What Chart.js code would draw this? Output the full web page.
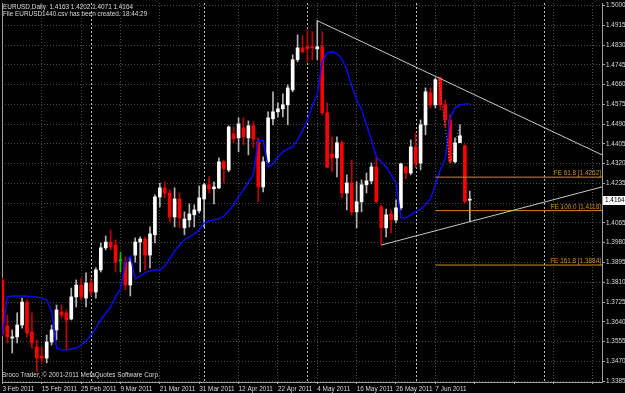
<!DOCTYPE html>
<html>
<head>
<meta charset="utf-8">
<title>EURUSD Daily</title>
<script src="https://cdn.jsdelivr.net/npm/chart.js@4.4.1/dist/chart.umd.min.js"></script>
<style>
  html, body { margin: 0; padding: 0; background: #000; }
  canvas { display: block; }
</style>
</head>
<body>
<canvas id="chart" width="625" height="393"></canvas>
<script>
// daily bars, 3 Feb 2011 .. 16 Jun 2011
const dates = [
  '3 Feb 2011', '4 Feb 2011', '7 Feb 2011', '8 Feb 2011', '9 Feb 2011', '10 Feb 2011', '11 Feb 2011', '14 Feb 2011',
  '15 Feb 2011', '16 Feb 2011', '17 Feb 2011', '18 Feb 2011', '21 Feb 2011', '22 Feb 2011', '23 Feb 2011', '24 Feb 2011',
  '25 Feb 2011', '28 Feb 2011', '1 Mar 2011', '2 Mar 2011', '3 Mar 2011', '4 Mar 2011', '7 Mar 2011', '8 Mar 2011',
  '9 Mar 2011', '10 Mar 2011', '11 Mar 2011', '14 Mar 2011', '15 Mar 2011', '16 Mar 2011', '17 Mar 2011', '18 Mar 2011',
  '21 Mar 2011', '22 Mar 2011', '23 Mar 2011', '24 Mar 2011', '25 Mar 2011', '28 Mar 2011', '29 Mar 2011', '30 Mar 2011',
  '31 Mar 2011', '1 Apr 2011', '4 Apr 2011', '5 Apr 2011', '6 Apr 2011', '7 Apr 2011', '8 Apr 2011', '11 Apr 2011',
  '12 Apr 2011', '13 Apr 2011', '14 Apr 2011', '15 Apr 2011', '18 Apr 2011', '19 Apr 2011', '20 Apr 2011', '21 Apr 2011',
  '22 Apr 2011', '25 Apr 2011', '26 Apr 2011', '27 Apr 2011', '28 Apr 2011', '29 Apr 2011', '2 May 2011', '3 May 2011',
  '4 May 2011', '5 May 2011', '6 May 2011', '9 May 2011', '10 May 2011', '11 May 2011', '12 May 2011', '13 May 2011',
  '16 May 2011', '17 May 2011', '18 May 2011', '19 May 2011', '20 May 2011', '23 May 2011', '24 May 2011', '25 May 2011',
  '26 May 2011', '27 May 2011', '30 May 2011', '31 May 2011', '1 Jun 2011', '2 Jun 2011', '3 Jun 2011', '6 Jun 2011',
  '7 Jun 2011', '8 Jun 2011', '9 Jun 2011', '10 Jun 2011', '13 Jun 2011', '14 Jun 2011', '15 Jun 2011', '16 Jun 2011'
];

const open = [
  1.3820, 1.3622, 1.3570, 1.3575, 1.3626, 1.3725, 1.3596, 1.3532, 1.3493, 1.3484,
  1.3553, 1.3605, 1.3682, 1.3678, 1.3652, 1.3747, 1.3798, 1.3742, 1.3807, 1.3768,
  1.3863, 1.3958, 1.3983, 1.3970, 1.3902, 1.3897, 1.3798, 1.3927, 1.3983, 1.3996,
  1.3927, 1.4014, 1.4177, 1.4216, 1.4194, 1.4091, 1.4168, 1.4044, 1.4078, 1.4100,
  1.4117, 1.4168, 1.4229, 1.4212, 1.4216, 1.4328, 1.4293, 1.4448, 1.4431, 1.4474,
  1.4431, 1.4483, 1.4414, 1.4220, 1.4328, 1.4513, 1.4543, 1.4556, 1.4573, 1.4637,
  1.4767, 1.4818, 1.4823, 1.4823, 1.4814, 1.4823, 1.4539, 1.4362, 1.4345, 1.4410,
  1.4194, 1.4237, 1.4113, 1.4156, 1.4229, 1.4246, 1.4306, 1.4134, 1.4044, 1.4104,
  1.4078, 1.4130, 1.4306, 1.4280, 1.4392, 1.4323, 1.4487, 1.4625, 1.4573, 1.4689,
  1.4573, 1.4508, 1.4328, 1.4410, 1.4397, 1.4163
];
const high = [
  1.3828, 1.3669, 1.3605, 1.3678, 1.3742, 1.3734, 1.3678, 1.3562, 1.3532, 1.3583,
  1.3626, 1.3712, 1.3712, 1.3691, 1.3785, 1.3820, 1.3828, 1.3850, 1.3828, 1.3872,
  1.3979, 1.4009, 1.4035, 1.3992, 1.3940, 1.3919, 1.3915, 1.4001, 1.4005, 1.4005,
  1.4048, 1.4186, 1.4237, 1.4242, 1.4207, 1.4216, 1.4194, 1.4113, 1.4147, 1.4143,
  1.4224, 1.4237, 1.4263, 1.4242, 1.4345, 1.4336, 1.4483, 1.4478, 1.4517, 1.4517,
  1.4504, 1.4500, 1.4431, 1.4349, 1.4543, 1.4629, 1.4582, 1.4620, 1.4659, 1.4788,
  1.4874, 1.4870, 1.4896, 1.4887, 1.4935, 1.4887, 1.4582, 1.4435, 1.4435, 1.4418,
  1.4272, 1.4336, 1.4242, 1.4250, 1.4280, 1.4323, 1.4345, 1.4143, 1.4125, 1.4121,
  1.4164, 1.4323, 1.4310, 1.4422, 1.4452, 1.4508, 1.4646, 1.4646, 1.4689, 1.4694,
  1.4595, 1.4530, 1.4431, 1.4487, 1.4401, 1.4202
];
const low = [
  1.3579, 1.3549, 1.3506, 1.3549, 1.3613, 1.3575, 1.3527, 1.3424, 1.3463, 1.3463,
  1.3540, 1.3562, 1.3656, 1.3519, 1.3648, 1.3704, 1.3734, 1.3704, 1.3751, 1.3742,
  1.3854, 1.3949, 1.3949, 1.3854, 1.3854, 1.3777, 1.3751, 1.3897, 1.3854, 1.3863,
  1.3872, 1.3979, 1.4134, 1.4173, 1.4070, 1.4048, 1.4044, 1.4014, 1.4048, 1.4048,
  1.4108, 1.4048, 1.4194, 1.4147, 1.4212, 1.4237, 1.4285, 1.4410, 1.4371, 1.4401,
  1.4358, 1.4388, 1.4156, 1.4199, 1.4323, 1.4487, 1.4521, 1.4521, 1.4487, 1.4629,
  1.4758, 1.4797, 1.4758, 1.4767, 1.4767, 1.4530, 1.4302, 1.4285, 1.4263, 1.4173,
  1.4121, 1.4100, 1.4044, 1.4113, 1.4194, 1.4233, 1.4151, 1.3970, 1.4005, 1.4022,
  1.4065, 1.4121, 1.4255, 1.4272, 1.4302, 1.4293, 1.4444, 1.4560, 1.4560, 1.4551,
  1.4478, 1.4323, 1.4323, 1.4410, 1.4151, 1.4071
];
const close = [
  1.3588, 1.3575, 1.3575, 1.3626, 1.3725, 1.3592, 1.3549, 1.3484, 1.3484, 1.3553,
  1.3605, 1.3691, 1.3669, 1.3648, 1.3747, 1.3798, 1.3747, 1.3807, 1.3768, 1.3863,
  1.3958, 1.3983, 1.3962, 1.3897, 1.3902, 1.3798, 1.3897, 1.3983, 1.3996, 1.3927,
  1.4018, 1.4177, 1.4216, 1.4194, 1.4091, 1.4168, 1.4087, 1.4082, 1.4104, 1.4121,
  1.4173, 1.4229, 1.4212, 1.4220, 1.4328, 1.4298, 1.4478, 1.4427, 1.4491, 1.4435,
  1.4483, 1.4427, 1.4220, 1.4328, 1.4517, 1.4543, 1.4556, 1.4573, 1.4646, 1.4767,
  1.4818, 1.4801, 1.4814, 1.4818, 1.4823, 1.4539, 1.4306, 1.4345, 1.4410, 1.4194,
  1.4237, 1.4113, 1.4156, 1.4229, 1.4246, 1.4306, 1.4156, 1.4044, 1.4100, 1.4078,
  1.4130, 1.4319, 1.4280, 1.4392, 1.4323, 1.4487, 1.4629, 1.4573, 1.4681, 1.4573,
  1.4508, 1.4328, 1.4410, 1.4440, 1.4156, 1.4164
];

// blue moving average as drawn on the chart
const movingAvg = [
  1.3583, 1.3747, 1.3751, 1.3751, 1.3751, 1.3751, 1.3747, 1.3747, 1.3742, 1.3734,
  1.3686, 1.3527, 1.3519, 1.3519, 1.3523, 1.3527, 1.3540, 1.3557, 1.3583, 1.3613,
  1.3648, 1.3678, 1.3704, 1.3747, 1.3781, 1.3897, 1.3923, 1.3824, 1.3837, 1.3850,
  1.3859, 1.3863, 1.3863, 1.3880, 1.3910, 1.3945, 1.3970, 1.3992, 1.4005, 1.4018,
  1.4035, 1.4065, 1.4074, 1.4078, 1.4082, 1.4095, 1.4117, 1.4143, 1.4177, 1.4207,
  1.4242, 1.4272, 1.4418, 1.4422, 1.4306, 1.4319, 1.4349, 1.4371, 1.4384, 1.4392,
  1.4422, 1.4461, 1.4508, 1.4569, 1.4620, 1.4758, 1.4797, 1.4801, 1.4793, 1.4771,
  1.4724, 1.4655, 1.4595, 1.4552, 1.4487, 1.4422, 1.4349, 1.4328, 1.4306, 1.4272,
  1.4237, 1.4087, 1.4087, 1.4100, 1.4113, 1.4125, 1.4143, 1.4168, 1.4229, 1.4293,
  1.4341, 1.4517, 1.4560, 1.4573, 1.4577, 1.4577
];

const priceTicks = [
  1.5000, 1.4915, 1.4830, 1.4745, 1.4660, 1.4575, 1.4490, 1.4405, 1.4320, 1.4235,
  1.4150, 1.4065, 1.3980, 1.3895, 1.3810, 1.3725, 1.3640, 1.3555, 1.3470, 1.3385
];
const dateTickBars = [0, 8, 16, 24, 32, 40, 48, 56, 64, 72, 80, 88, 96, 104, 112, 120];
const monthSeparators = [18, 41, 62, 84, 110];

const trendUpper = [{ x: 64, y: 1.4935 }, { x: 121.87, y: 1.4358 }];
const trendLower = [{ x: 77, y: 1.3970 }, { x: 121.87, y: 1.4220 }];
const fiboPoints = [{ x: 88.6, y: 1.4694 }, { x: 91, y: 1.4323 }, { x: 93, y: 1.4487 }];
const feLevels = [61.8, 100.0, 161.8];
const fePrices = [1.4262, 1.4118, 1.3884];
const feStartBar = 88;

const fileNote = 'File EURUSD1440.csv has been created. 18:44:29';
const copyright = 'Broco Trader, \u00a9 2001-2011 MetaQuotes Software Corp.';

const FONT = '"Liberation Sans", Arial, sans-serif';
const FONT_SIZE = 6.4;
const TEXT = '#d8d8d8';
const GRID = '#46494d';
const AXIS = '#a0a0a0';
const FE_COLOR = '#d08c22';
const X_MIN = -0.08, X_MAX = 121.87;

function candleColor(i, up, down, flat) {
  if (close[i] > open[i]) return up;
  if (close[i] < open[i]) return down;
  return flat;
}

const wicks = dates.map((d, i) => ({ x: i, y: [low[i], high[i]] }));
const bodies = dates.map((d, i) => ({ x: i, y: [open[i], close[i]] }));
const maPoints = movingAvg.map((v, i) => ({ x: i, y: v }));

const feDatasets = fePrices.map(p => ({
  type: 'line',
  data: [{ x: feStartBar, y: p }, { x: X_MAX, y: p }],
  borderColor: FE_COLOR,
  borderWidth: 1,
  pointRadius: 0,
  order: 2
}));

const mtPlugin = {
  id: 'mt',
  beforeDraw(chart) {
    const { ctx, width, height } = chart;
    ctx.save();
    ctx.fillStyle = '#000';
    ctx.fillRect(0, 0, width, height);
    ctx.restore();
  },
  beforeDatasetsDraw(chart) {
    const { ctx, chartArea: a, scales: { x } } = chart;
    ctx.save();
    ctx.lineWidth = 1;
    ctx.strokeStyle = '#bdbdbd';
    ctx.setLineDash([2, 2]);
    monthSeparators.forEach(b => {
      const px = Math.round(x.getPixelForValue(b)) + 0.5;
      ctx.beginPath();
      ctx.moveTo(px, a.top);
      ctx.lineTo(px, a.bottom);
      ctx.stroke();
    });
    ctx.setLineDash([]);
    ctx.strokeStyle = AXIS;
    ctx.beginPath();
    ctx.moveTo(a.left + 0.5, a.top);
    ctx.lineTo(a.left + 0.5, a.bottom);
    ctx.stroke();
    ctx.restore();
  },
  afterDraw(chart) {
    const { ctx, chartArea: a, scales: { y } } = chart;
    const n = close.length - 1;
    ctx.save();
    ctx.font = FONT_SIZE + 'px ' + FONT;

    // fibo expansion level captions
    ctx.fillStyle = FE_COLOR;
    ctx.textAlign = 'right';
    ctx.textBaseline = 'alphabetic';
    fePrices.forEach((p, k) => {
      ctx.fillText('FE ' + feLevels[k].toFixed(1) + ' [' + p.toFixed(4) + ']', a.right - 1, y.getPixelForValue(p) - 2);
    });

    // header and footer
    ctx.fillStyle = TEXT;
    ctx.textAlign = 'left';
    const head = 'EURUSD,Daily  ' + [open[n], high[n], low[n], close[n]].map(v => v.toFixed(4)).join(' ');
    ctx.fillText(head, 3, 9);
    ctx.fillText(fileNote, 3, 16);
    ctx.fillText(copyright, 2, 377);

    // last price marker on the axis
    const py = Math.round(y.getPixelForValue(close[n]));
    ctx.fillStyle = '#fff';
    ctx.fillRect(a.right + 1, py - 4, 22, 9);
    ctx.fillStyle = '#000';
    ctx.textBaseline = 'middle';
    ctx.fillText(close[n].toFixed(4), a.right + 3, py + 0.5);
    ctx.restore();
  }
};

new Chart(document.getElementById('chart'), {
  type: 'bar',
  data: {
    datasets: [
      { type: 'line', data: trendUpper, borderColor: '#c8c8c8', borderWidth: 1, pointRadius: 0, order: 0 },
      { type: 'line', data: trendLower, borderColor: '#c8c8c8', borderWidth: 1, pointRadius: 0, order: 0 },
      { type: 'line', data: fiboPoints, borderColor: '#9a9a9a', borderWidth: 1, borderDash: [1, 2], pointRadius: 0, order: 1 },
      ...feDatasets,
      { type: 'line', data: maPoints, borderColor: '#0a0aff', borderWidth: 1.4, pointRadius: 0, order: 3 },
      {
        type: 'bar', data: bodies, grouped: false, barThickness: 3, minBarLength: 1, order: 4,
        backgroundColor: dates.map((d, i) => candleColor(i, '#ffffff', '#ff0000', '#00c800'))
      },
      {
        type: 'bar', data: wicks, grouped: false, barThickness: 1, order: 5,
        backgroundColor: dates.map((d, i) => candleColor(i, '#b4b4b4', '#c00000', '#00c800'))
      }
    ]
  },
  options: {
    responsive: false,
    animation: false,
    devicePixelRatio: 1,
    events: [],
    layout: { padding: { left: 2, top: 3, right: 0, bottom: 0 } },
    plugins: { legend: { display: false }, tooltip: { enabled: false } },
    scales: {
      x: {
        type: 'linear',
        min: X_MIN,
        max: X_MAX,
        offset: false,
        afterBuildTicks: s => { s.ticks = dateTickBars.map(v => ({ value: v })); },
        afterFit: s => { s.height = 11; s.paddingLeft = 0; s.paddingRight = 0; },
        ticks: {
          autoSkip: false, maxRotation: 0, minRotation: 0, align: 'start', padding: 1,
          color: TEXT, font: { family: FONT, size: FONT_SIZE },
          callback: v => dates[v] || ''
        },
        grid: { offset: false, color: GRID, tickColor: AXIS, tickLength: 2, tickBorderDash: [] },
        border: { color: AXIS, dash: [1, 2] }
      },
      y: {
        position: 'right',
        min: 1.3381,
        max: 1.5011,
        afterBuildTicks: s => { s.ticks = priceTicks.map(v => ({ value: v })); },
        afterFit: s => { s.width = 23; s.paddingTop = 0; s.paddingBottom = 0; },
        ticks: {
          autoSkip: false, padding: 1,
          color: TEXT, font: { family: FONT, size: FONT_SIZE },
          callback: v => Number(v).toFixed(4)
        },
        grid: { color: GRID, tickColor: AXIS, tickLength: 3, tickBorderDash: [] },
        border: { color: AXIS, dash: [1, 2] }
      }
    }
  },
  plugins: [mtPlugin]
});
</script>
</body>
</html>
